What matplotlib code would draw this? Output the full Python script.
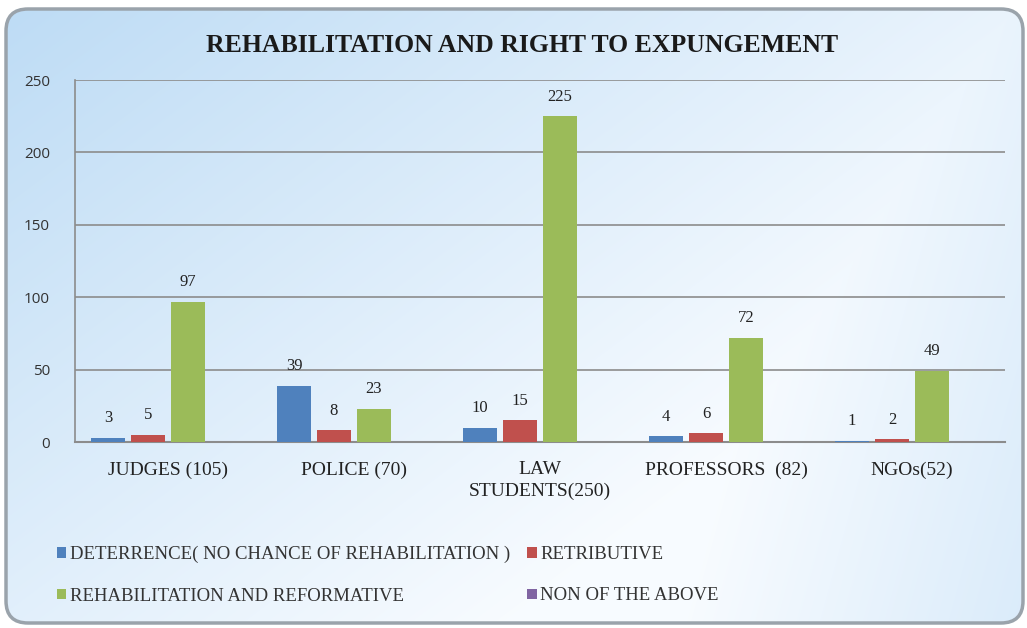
import numpy as np
import matplotlib
matplotlib.use("Agg")
import matplotlib.pyplot as plt
from matplotlib.patches import FancyBboxPatch

categories = ["JUDGES (105)", "POLICE (70)", "LAW\nSTUDENTS(250)", "PROFESSORS  (82)", "NGOs(52)"]
series_names = ["DETERRENCE( NO CHANCE OF REHABILITATION )", "RETRIBUTIVE",
                "REHABILITATION AND REFORMATIVE", "NON OF THE ABOVE"]
deterrence = [3, 39, 10, 4, 1]
retributive = [5, 8, 15, 6, 2]
rehabilitation = [97, 23, 225, 72, 49]
none_above = [0, 0, 0, 0, 0]
y_ticks = [0, 50, 100, 150, 200, 250]
title = "REHABILITATION AND RIGHT TO EXPUNGEMENT"

colors = ["#4F81BD", "#C0504D", "#9BBB59", "#8064A2"]
serif = ["Liberation Serif", "DejaVu Serif"]

W, H = 1027, 628
fig = plt.figure(figsize=(W / 100, H / 100), dpi=100)
fig.patch.set_facecolor("white")

# background frame with gradient
bg = fig.add_axes([0, 0, 1, 1])
bg.set_xlim(0, W)
bg.set_ylim(H, 0)
bg.axis("off")
yy, xx = np.mgrid[0:H, 0:W]
t = np.clip(1 - (xx / W * 0.55 + yy / H * 0.45) * 1.4, 0, 1)
t2 = np.clip((xx / W - 0.75) * 3 + (yy / H - 0.5) * 0.5, 0, 1) * 0.5
t = np.maximum(t, t2)
c0 = np.array([0.97, 0.985, 1.0])
c1 = np.array([0.74, 0.86, 0.96])
img = c0[None, None, :] * (1 - t[..., None]) + c1[None, None, :] * t[..., None]
frame = FancyBboxPatch((6, 9), W - 10, H - 14, boxstyle="round,pad=0,rounding_size=22",
                       facecolor="none", edgecolor="#9aa3ab", linewidth=2.5)
bg.add_patch(frame)
im = bg.imshow(img, extent=(0, W, H, 0), aspect="auto", zorder=0)
im.set_clip_path(frame)

ax = fig.add_axes([75 / W, 1 - 442 / H, 930 / W, 362 / H])
ax.patch.set_alpha(0)
x = np.arange(len(categories))
step = 0.215
bw = 0.178
all_series = [deterrence, retributive, rehabilitation, none_above]
handles = []
for i, (vals, col) in enumerate(zip(all_series, colors)):
    pos = x + (i - 1.5) * step
    bars = ax.bar(pos, vals, width=bw, color=col, zorder=3, label=series_names[i])
    handles.append(bars)
    if i < 3:
        for b, v in zip(bars, vals):
            ax.text(b.get_x() + b.get_width() / 2, v + 8, str(v), ha="center", va="bottom",
                    fontsize=12, family=serif, color="#222222")

ax.set_xlim(-0.5, len(categories) - 0.5)
ax.set_ylim(0, 250)
ax.set_yticks(y_ticks)
ax.set_yticklabels([str(v) for v in y_ticks], fontsize=11, color="#333333",
                   family=["Open Sans", "DejaVu Sans"])
ax.yaxis.grid(True, color="#8c8c8c", linewidth=1.2, zorder=0)
ax.set_axisbelow(True)
ax.tick_params(axis="y", length=0, pad=18)
ax.tick_params(axis="x", length=0, pad=14)
ax.set_xticks(x)
ax.set_xticklabels(categories, fontsize=14, family=serif, color="#222222", linespacing=1.3)
for s in ["top", "right"]:
    ax.spines[s].set_visible(False)
ax.spines["left"].set_color("#8c8c8c")
ax.spines["left"].set_linewidth(1.2)
ax.spines["bottom"].set_color("#8c8c8c")
ax.spines["bottom"].set_linewidth(1.5)

fig.text(522 / W, 1 - 45 / H, title, ha="center", va="center", fontsize=18.5,
         fontweight="bold", family=serif, color="#1a1a1a")

order = [0, 2, 1, 3]
leg = fig.legend([handles[k] for k in order], [series_names[k] for k in order],
                 loc="upper left", bbox_to_anchor=(40 / W, 1 - 529 / H),
                 ncol=2, frameon=False, prop={"family": serif, "size": 13.5},
                 handlelength=0.5, handleheight=0.5, handletextpad=0.2,
                 columnspacing=0.9, labelspacing=1.3)
for txt in leg.get_texts():
    txt.set_color("#333333")

fig.savefig("out.png", dpi=100)
